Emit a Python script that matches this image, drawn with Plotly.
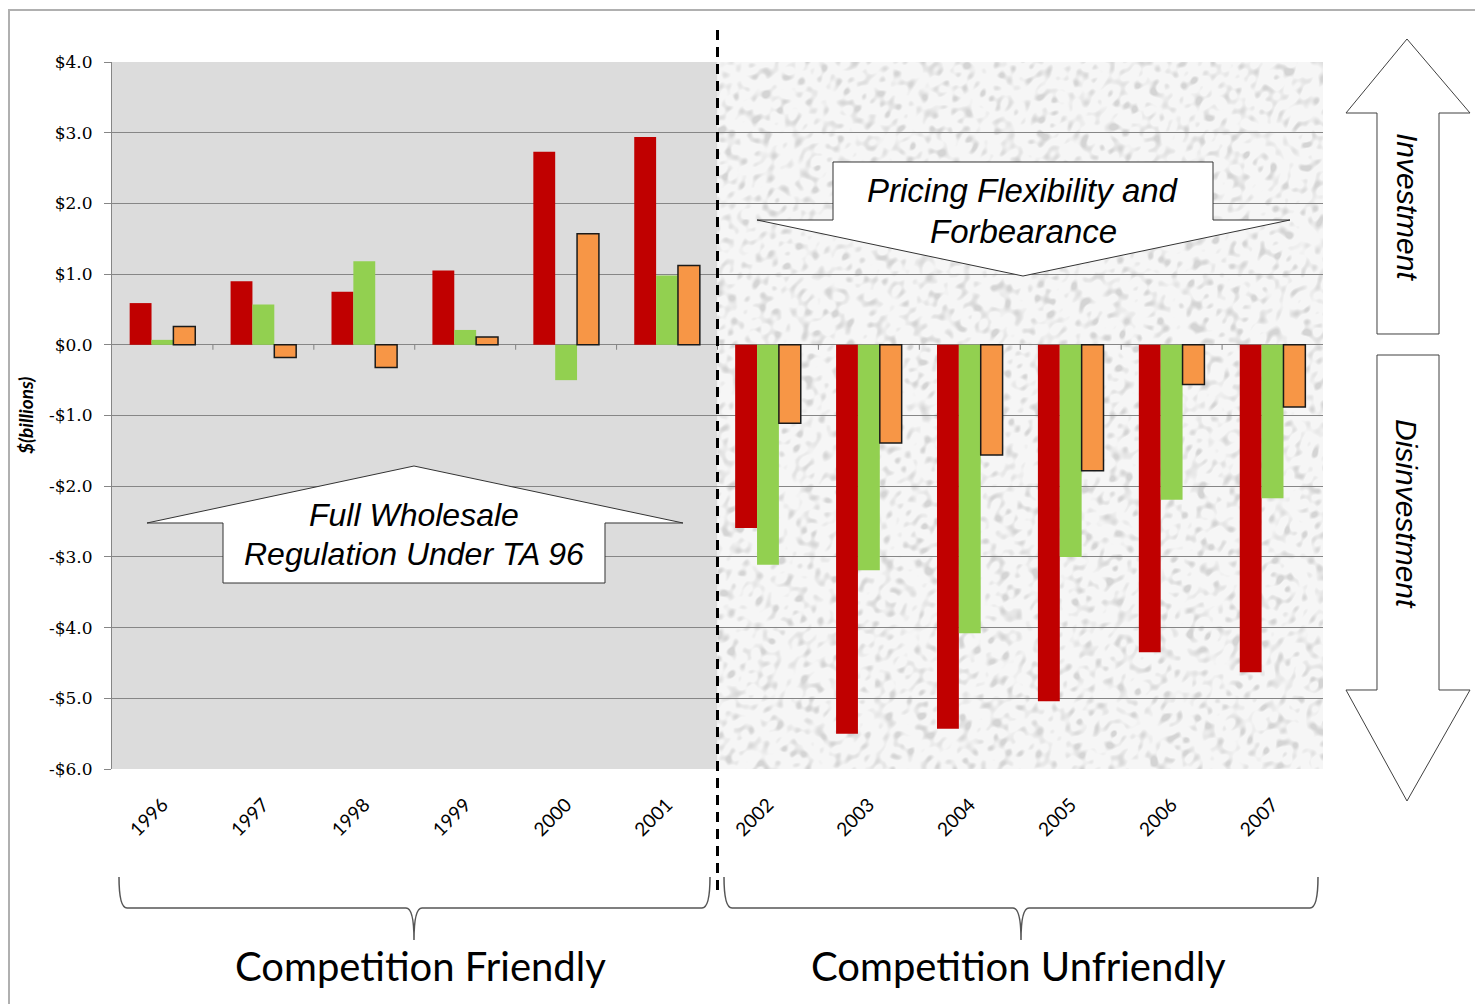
import base64
import struct
import zlib

import numpy as np
import plotly.graph_objects as go

# ---- data ($ billions) ----
years = ["1996", "1997", "1998", "1999", "2000", "2001",
         "2002", "2003", "2004", "2005", "2006", "2007"]
red_vals = [0.59, 0.90, 0.75, 1.05, 2.73, 2.94,
            -2.59, -5.50, -5.43, -5.04, -4.35, -4.63]
green_vals = [0.07, 0.57, 1.18, 0.21, -0.50, 0.98,
              -3.11, -3.19, -4.08, -3.00, -2.19, -2.17]
orange_vals = [0.26, -0.18, -0.32, 0.11, 1.57, 1.12,
               -1.11, -1.39, -1.56, -1.78, -0.56, -0.88]
y_tick_vals = [4, 3, 2, 1, 0, -1, -2, -3, -4, -5, -6]
y_tick_text = ["$4.0", "$3.0", "$2.0", "$1.0", "$0.0", "-$1.0",
               "-$2.0", "-$3.0", "-$4.0", "-$5.0", "-$6.0"]

W, H = 1475, 1004
L, R, T, B = 112, 1323, 62, 769  # plot area in pixels


def px(x):
    return (x - L) / (R - L)


def py(y):
    return (B - y) / (B - T)


def path(points, close=True):
    s = "M " + " L ".join(f"{px(x):.5f},{py(y):.5f}" for x, y in points)
    return s + (" Z" if close else "")


def speckle_png(w, h):
    """Light speckled grey fill built from many crossing waves, as a PNG data URI."""
    yy, xx = np.mgrid[0:h, 0:w].astype(float)
    n = np.zeros((h, w))
    count = 30
    for k in range(count):
        theta = k * 2.39996
        freq = 0.16 + 0.55 * ((k * 0.618034) % 1.0)
        n += np.sin(freq * (xx * np.cos(theta) + yy * np.sin(theta)) + k * 1.7)
    n /= np.sqrt(count / 2)
    g = 246 - 34 * np.clip((n - 0.2) / 2.0, 0, 1)
    g = g.astype(np.uint8)
    raw = b"".join(b"\x00" + g[r].tobytes() for r in range(h))

    def chunk(tag, data):
        c = struct.pack(">I", len(data)) + tag + data
        return c + struct.pack(">I", zlib.crc32(tag + data) & 0xffffffff)

    png = (b"\x89PNG\r\n\x1a\n"
           + chunk(b"IHDR", struct.pack(">IIBBBBB", w, h, 8, 0, 0, 0, 0))
           + chunk(b"IDAT", zlib.compress(raw, 9))
           + chunk(b"IEND", b""))
    return "data:image/png;base64," + base64.b64encode(png).decode()


fig = go.Figure()
for name, vals, color, lw in [("red", red_vals, "#c00000", 0),
                              ("green", green_vals, "#92d050", 0),
                              ("orange", orange_vals, "#f79646", 1.5)]:
    fig.add_trace(go.Bar(
        x=years, y=vals, name=name,
        marker=dict(color=color, line=dict(color="#1a1a1a", width=lw)),
        hoverinfo="skip", showlegend=False,
    ))

shapes = []
# plain grey background behind the regulated-era years
shapes.append(dict(type="rect", xref="x", yref="y", x0=-0.5, x1=5.5, y0=-6, y1=4,
                   fillcolor="#dcdcdc", line=dict(width=0), layer="below"))
# small tick marks on the zero line at category boundaries
for i in range(11):
    shapes.append(dict(type="line", xref="x", yref="y", x0=i + 0.5, x1=i + 0.5,
                       y0=0, y1=-0.07, line=dict(color="#808080", width=1)))
# dashed divider
shapes.append(dict(type="line", xref="x", yref="paper", x0=5.5, x1=5.5,
                   y0=py(30), y1=py(897),
                   line=dict(color="black", width=3, dash="10px,7px")))

# callout: up-arrow box
up_callout = [(147, 523), (414, 466), (683, 523), (605, 523), (605, 583),
              (223, 583), (223, 523)]
shapes.append(dict(type="path", xref="paper", yref="paper", path=path(up_callout),
                   fillcolor="white", line=dict(color="#333333", width=1)))
# callout: down-arrow box
down_callout = [(833, 162), (1213, 162), (1213, 220), (1290, 220), (1023, 276),
                (757, 220), (833, 220)]
shapes.append(dict(type="path", xref="paper", yref="paper", path=path(down_callout),
                   fillcolor="white", line=dict(color="#333333", width=1)))

# right-hand direction arrows
up_arrow = [(1407, 39), (1470, 113), (1439, 113), (1439, 334), (1377, 334),
            (1377, 113), (1346, 113)]
down_arrow = [(1377, 355), (1439, 355), (1439, 690), (1470, 690), (1407, 801),
              (1346, 690), (1377, 690)]
for pts in (up_arrow, down_arrow):
    shapes.append(dict(type="path", xref="paper", yref="paper", path=path(pts),
                       fillcolor="white", line=dict(color="#404040", width=1)))


# curly braces under the axis
def brace(x0, x1, xm, ytop=877, ymid=908, ybot=940):
    d = (f"M {px(x0):.5f},{py(ytop):.5f} "
         f"Q {px(x0):.5f},{py(ymid):.5f} {px(x0 + 8):.5f},{py(ymid):.5f} "
         f"L {px(xm - 8):.5f},{py(ymid):.5f} "
         f"Q {px(xm):.5f},{py(ymid):.5f} {px(xm):.5f},{py(ybot):.5f} "
         f"Q {px(xm):.5f},{py(ymid):.5f} {px(xm + 8):.5f},{py(ymid):.5f} "
         f"L {px(x1 - 8):.5f},{py(ymid):.5f} "
         f"Q {px(x1):.5f},{py(ymid):.5f} {px(x1):.5f},{py(ytop):.5f}")
    return dict(type="path", xref="paper", yref="paper", path=d,
                line=dict(color="#555555", width=1.5))


shapes.append(brace(119, 710, 414))
shapes.append(brace(724, 1318, 1021))

# outer frame
shapes.append(dict(type="rect", xref="paper", yref="paper",
                   x0=px(9), x1=px(1490), y0=py(10), y1=py(1020),
                   line=dict(color="#b0b0b0", width=2)))

annotations = []


def note(text, x, y, size, family="Liberation Sans", angle=0, color="black"):
    annotations.append(dict(text=text, x=px(x), y=py(y), xref="paper", yref="paper",
                            showarrow=False, xanchor="center", yanchor="middle",
                            textangle=angle,
                            font=dict(size=size, family=family, color=color)))


note("<i>Full Wholesale</i>", 414, 515, 32)
note("<i>Regulation Under TA 96</i>", 414, 554, 32)
note("<i>Pricing Flexibility and</i>", 1023, 190, 33)
note("<i>Forbearance</i>", 1023, 232, 33)
note("<i>Investment</i>", 1407, 207, 30, angle=90)
note("<i>Disinvestment</i>", 1407, 514, 30, angle=90)
note("Competition Friendly", 420, 966, 40, family="Lato")
note("Competition Unfriendly", 1018, 966, 40, family="Lato")
note("<b><i>$(billions)</i></b>", 25, 416, 19, family="Lato", angle=-90)

fig.update_layout(
    width=W, height=H,
    margin=dict(l=L, r=W - R, t=T, b=H - B, autoexpand=False),
    paper_bgcolor="white", plot_bgcolor="white",
    barmode="group", bargap=0.35, bargroupgap=0,
    shapes=shapes, annotations=annotations,
    images=[dict(source=speckle_png(605, 707), xref="x", yref="y",
                 x=5.5, y=4, sizex=6, sizey=10, sizing="stretch",
                 xanchor="left", yanchor="top", layer="below")],
    xaxis=dict(type="category", range=[-0.5, 11.5], showgrid=False,
               tickangle=-45, ticks="", ticklabelstandoff=20,
               tickfont=dict(family="Lato", size=19, color="black"),
               showline=False, zeroline=False, fixedrange=True),
    yaxis=dict(range=[-6, 4], tickvals=y_tick_vals, ticktext=y_tick_text,
               showgrid=True, gridcolor="#868686", gridwidth=1,
               zeroline=True, zerolinecolor="#868686", zerolinewidth=1,
               showline=True, linecolor="#868686", linewidth=1,
               ticks="outside", ticklen=7, tickcolor="#868686",
               ticklabelstandoff=8,
               tickfont=dict(family="DejaVu Serif", size=17, color="black"),
               fixedrange=True),
)

fig.write_html("out.html")
